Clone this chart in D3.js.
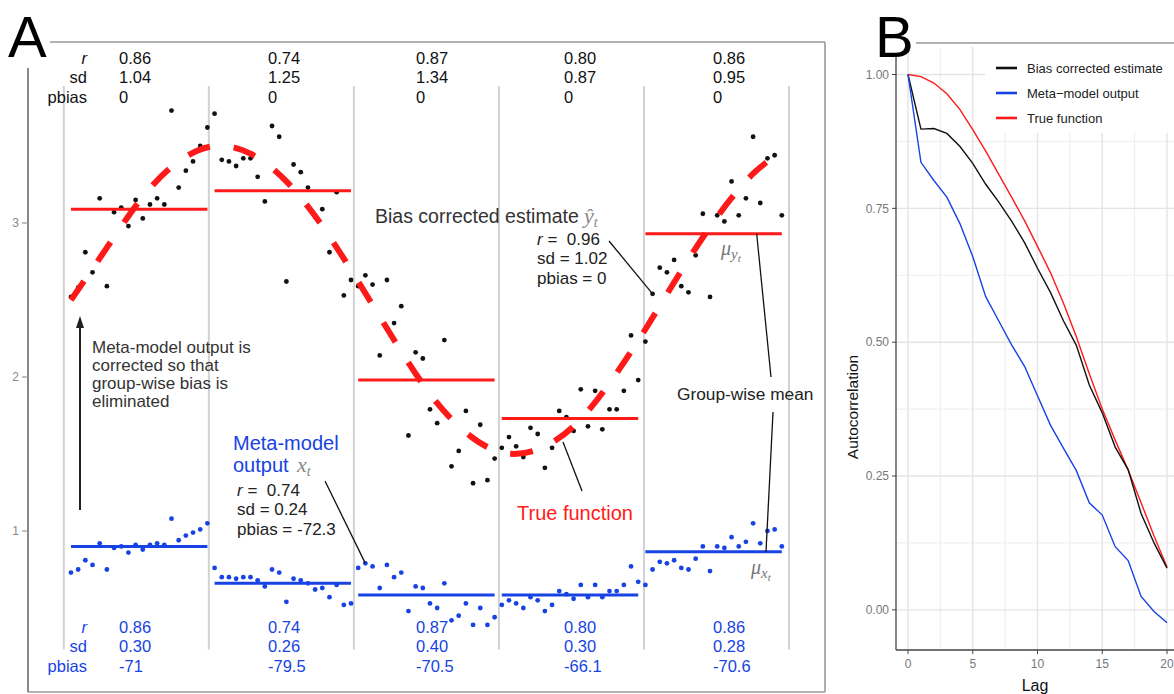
<!DOCTYPE html>
<html><head><meta charset="utf-8">
<script src="https://cdn.jsdelivr.net/npm/d3@7"></script>
<style>
body{margin:0;background:#fff}
svg{display:block;font-family:Arial,"Liberation Sans",Helvetica,sans-serif}
text{white-space:pre}
</style>
</head><body><svg id="c" width="1174" height="694"></svg>
<script>
// ---------------- DATA ----------------
const timeStep = d3.range(1, 101);
const biasCorrected = [
  2.52,2.58,2.81,2.68,3.16,2.59,3.07,3.10,2.98,3.15,3.03,3.12,3.16,3.12,3.73,3.23,3.34,3.40,3.50,3.62,
  3.71,3.41,3.40,3.37,3.42,3.42,3.30,3.14,3.63,3.56,2.62,3.38,3.33,3.23,3.04,3.09,2.81,3.20,2.53,2.63,
  2.59,2.66,2.60,2.14,2.63,2.35,2.46,1.62,2.16,2.12,1.79,1.70,2.24,1.42,1.52,1.78,1.31,1.69,1.33,1.47,
  1.54,1.61,1.55,1.48,1.67,1.63,1.41,1.54,1.78,1.74,1.65,1.92,1.68,1.91,1.66,1.79,1.79,1.91,2.27,1.98,
  2.23,2.54,2.71,2.68,2.76,2.59,2.55,2.79,3.06,2.52,3.05,3.01,3.27,3.05,3.16,3.56,3.13,3.42,3.44,3.05];
const metaModel = [
  0.73,0.75,0.81,0.78,0.92,0.75,0.89,0.90,0.86,0.91,0.88,0.91,0.92,0.91,1.08,0.94,0.97,0.99,1.01,1.05,
  0.76,0.70,0.70,0.69,0.70,0.70,0.68,0.64,0.75,0.73,0.54,0.69,0.68,0.66,0.62,0.63,0.57,0.65,0.52,0.53,
  0.76,0.79,0.77,0.63,0.78,0.70,0.73,0.48,0.64,0.63,0.53,0.50,0.66,0.42,0.45,0.53,0.39,0.50,0.39,0.44,
  0.52,0.55,0.53,0.50,0.57,0.55,0.48,0.52,0.61,0.59,0.56,0.65,0.57,0.65,0.57,0.61,0.61,0.65,0.77,0.67,
  0.65,0.75,0.80,0.79,0.81,0.76,0.75,0.82,0.90,0.74,0.90,0.89,0.96,0.90,0.93,1.05,0.92,1.00,1.01,0.90];
const trueT     = [1,6,11,16,21,26,31,36,41,46,51,56,61,66,71,76,81,86,91,96,100];
const trueValue = [2.50,2.84,3.17,3.40,3.50,3.45,3.27,2.98,2.62,2.24,1.89,1.64,1.51,1.53,1.68,1.96,2.31,2.69,3.04,3.32,3.46];
const groupBreaks = [0,20.2,40.4,60.6,80.8,101];
const groupMeanY = [3.09,3.21,1.98,1.73,2.93];
const groupMeanX = [0.90,0.66,0.585,0.585,0.865];
const statLabels = ["r","sd","pbias"];
const statYr     = ["0.86","0.74","0.87","0.80","0.86"];
const statYsd    = ["1.04","1.25","1.34","0.87","0.95"];
const statYpbias = ["0","0","0","0","0"];
const statXr     = ["0.86","0.74","0.87","0.80","0.86"];
const statXsd    = ["0.30","0.26","0.40","0.30","0.28"];
const statXpbias = ["-71","-79.5","-70.5","-66.1","-70.6"];
const yTicksA = [1,2,3];

const lags = d3.range(0, 21);
const acfBias = [1.000,0.898,0.899,0.890,0.866,0.834,0.795,0.762,0.726,0.686,0.638,0.593,0.540,0.494,0.420,0.368,0.304,0.262,0.180,0.125,0.078];
const acfMeta = [1.000,0.836,0.802,0.771,0.722,0.660,0.585,0.540,0.495,0.455,0.400,0.345,0.302,0.260,0.200,0.177,0.118,0.092,0.025,-0.003,-0.024];
const acfTrue = [1.000,0.996,0.984,0.964,0.935,0.897,0.857,0.814,0.771,0.727,0.679,0.630,0.573,0.510,0.441,0.375,0.317,0.261,0.200,0.138,0.080];
const xTicksB = [0,5,10,15,20];
const yTicksB = [0,0.25,0.5,0.75,1];
const xMinorB = [2.5,7.5,12.5,17.5];
const yMinorB = [0.125,0.375,0.625,0.875];
const legendLabels = ["Bias corrected estimate","Meta\u2212model output","True function"];

// ---------------- STYLE ----------------
const RED = "#ff1a1a", BLUE = "#1743e4", BLK = "#111";
const svg = d3.select("#c");
svg.append("rect").attr("width",1174).attr("height",694).attr("fill","#fff");

// ---------------- PANEL A ----------------
const xA = d3.scaleLinear().domain([0,101]).range([63.8,789]);
const yA = d3.scaleLinear().domain([1,3]).range([531,223]);
const A = svg.append("g");

// frame
A.append("line").attr("x1",50).attr("x2",825).attr("y1",42).attr("y2",42).attr("stroke","#999").attr("stroke-width",1.6);
A.append("line").attr("x1",825).attr("x2",825).attr("y1",42).attr("y2",692).attr("stroke","#999").attr("stroke-width",1.6);
A.append("line").attr("x1",28).attr("x2",825).attr("y1",692).attr("y2",692).attr("stroke","#999").attr("stroke-width",1.6);
A.append("line").attr("x1",28).attr("x2",28).attr("y1",68).attr("y2",692).attr("stroke","#888").attr("stroke-width",2);
A.append("text").attr("x",8).attr("y",57).attr("font-size",58).attr("fill","#000").text("A");

// y ticks
yTicksA.forEach(v=>{
  A.append("line").attr("x1",22).attr("x2",28).attr("y1",yA(v)).attr("y2",yA(v)).attr("stroke","#999").attr("stroke-width",1.2);
  A.append("text").attr("x",19).attr("y",yA(v)).attr("dy","0.35em").attr("text-anchor","end")
    .attr("font-size",12).attr("fill","#888").text(v);
});

// group separators
A.selectAll(".sep").data(groupBreaks).join("line")
  .attr("x1",d=>xA(d)).attr("x2",d=>xA(d)).attr("y1",yA(3.89)).attr("y2",yA(0.23))
  .attr("stroke","#d2d2d2").attr("stroke-width",2);

// points
A.selectAll(".pb").data(timeStep).join("circle")
  .attr("cx",(d)=>xA(d)).attr("cy",(d,i)=>yA(biasCorrected[i])).attr("r",2.4).attr("fill",BLK);
A.selectAll(".pm").data(timeStep).join("circle")
  .attr("cx",(d)=>xA(d)).attr("cy",(d,i)=>yA(metaModel[i])).attr("r",2.4).attr("fill",BLUE);

// group means
groupMeanY.forEach((m,i)=>{
  A.append("line").attr("x1",xA(i*20+1)).attr("x2",xA(i*20+20)).attr("y1",yA(m)).attr("y2",yA(m))
    .attr("stroke",RED).attr("stroke-width",3);
});
groupMeanX.forEach((m,i)=>{
  A.append("line").attr("x1",xA(i*20+1)).attr("x2",xA(i*20+20)).attr("y1",yA(m)).attr("y2",yA(m))
    .attr("stroke",BLUE).attr("stroke-width",3);
});

// true function
const trueData = trueT.map((t,i)=>({t, v:trueValue[i]}));
A.append("path").datum(trueData)
  .attr("d", d3.line().x(d=>xA(d.t)).y(d=>yA(d.v)).curve(d3.curveNatural))
  .attr("fill","none").attr("stroke",RED).attr("stroke-width",6).attr("stroke-dasharray","23,24");

// stats
const valX = [119,268,416,564,713];
function statBlock(rows, baselines, color){
  statLabels.forEach((lab,j)=>{
    A.append("text").attr("x",87).attr("y",baselines[j]).attr("text-anchor","end")
      .attr("font-size",16.5).attr("fill",color).attr("font-style", j===0?"italic":"normal").text(lab);
    rows[j].forEach((v,i)=>{
      A.append("text").attr("x",valX[i]).attr("y",baselines[j]).attr("font-size",16.5).attr("fill",color).text(v);
    });
  });
}
statBlock([statYr,statYsd,statYpbias],[64,83,103],"#111");
statBlock([statXr,statXsd,statXpbias],[633,652,672],BLUE);

// annotations
const SERIF = "'Liberation Serif','DejaVu Serif',serif";
A.append("text").attr("x",375).attr("y",223).attr("font-size",19.5).attr("fill","#333").text("Bias corrected estimate");
const yh = A.append("text").attr("x",584).attr("y",223).attr("font-family",SERIF).attr("font-style","italic").attr("fill","#888").attr("font-size",22);
yh.append("tspan").text("\u0177");
yh.append("tspan").attr("font-size",14).attr("dy",4).text("t");

function statAnno(x, y0, lines){
  lines.forEach((ln,j)=>{
    const tx = A.append("text").attr("x",x).attr("y",y0+j*19.3).attr("font-size",17).attr("fill","#222");
    if(ln[0]==="r"){ tx.append("tspan").attr("font-style","italic").text("r"); tx.append("tspan").text(ln.slice(1)); }
    else tx.text(ln);
  });
}
statAnno(537,245,["r =  0.96","sd = 1.02","pbias = 0"]);
statAnno(237,496,["r =  0.74","sd = 0.24","pbias = -72.3"]);

["Meta-model output is","corrected so that","group-wise bias is","eliminated"].forEach((s,j)=>{
  A.append("text").attr("x",92).attr("y",353+j*17.9).attr("font-size",17).attr("fill","#333").text(s);
});
// arrow
A.append("line").attr("x1",80).attr("x2",80).attr("y1",510).attr("y2",326).attr("stroke","#222").attr("stroke-width",2);
A.append("path").attr("d","M80,316 L76,328 L84,328 Z").attr("fill","#222");

A.append("text").attr("x",233).attr("y",450).attr("font-size",20).attr("fill",BLUE).text("Meta-model");
A.append("text").attr("x",233).attr("y",472).attr("font-size",20).attr("fill",BLUE).text("output");
const xt = A.append("text").attr("x",297).attr("y",472).attr("font-family",SERIF).attr("font-style","italic").attr("fill","#888").attr("font-size",22);
xt.append("tspan").text("x");
xt.append("tspan").attr("font-size",14).attr("dy",4).text("t");

A.append("text").attr("x",517).attr("y",520).attr("font-size",20).attr("fill",RED).text("True function");
A.append("text").attr("x",677).attr("y",400).attr("font-size",17.3).attr("fill","#222").text("Group-wise mean");

function mu(x,y,sub){
  const m = A.append("text").attr("x",x).attr("y",y).attr("font-family",SERIF).attr("font-style","italic").attr("fill","#777").attr("font-size",20);
  m.append("tspan").text("\u03bc");
  m.append("tspan").attr("font-size",15).attr("dy",4).text(sub);
  m.append("tspan").attr("font-size",11).attr("dy",3).text("t");
}
mu(721,255,"y");
mu(751,574,"x");

// leader lines
const leaders = [
  [609,241, xA(82), yA(biasCorrected[81])],
  [325,481, xA(42), yA(metaModel[41])],
  [563,442, 582,491],
  [xA(96.5), yA(groupMeanY[4]), 771,377],
  [773,412, 766, yA(groupMeanX[4])]
];
leaders.forEach(l=>{
  A.append("line").attr("x1",l[0]).attr("y1",l[1]).attr("x2",l[2]).attr("y2",l[3]).attr("stroke","#111").attr("stroke-width",1.3);
});

// ---------------- PANEL B ----------------
const xB = d3.scaleLinear().domain([-1,21]).range([895.05,1179.95]);
const yB = d3.scaleLinear().domain([-0.075,1.051]).range([650,47.2]);
const B = svg.append("g");
const clip = svg.append("clipPath").attr("id","cb");
clip.append("rect").attr("x",896).attr("y",47).attr("width",280).attr("height",603);
const plotB = B.append("g").attr("clip-path","url(#cb)");

xMinorB.forEach(v=>plotB.append("line").attr("x1",xB(v)).attr("x2",xB(v)).attr("y1",47).attr("y2",650).attr("stroke","#efefef").attr("stroke-width",1.2));
yMinorB.forEach(v=>plotB.append("line").attr("x1",896).attr("x2",1174).attr("y1",yB(v)).attr("y2",yB(v)).attr("stroke","#efefef").attr("stroke-width",1.2));
xTicksB.forEach(v=>plotB.append("line").attr("x1",xB(v)).attr("x2",xB(v)).attr("y1",47).attr("y2",650).attr("stroke","#e4e4e4").attr("stroke-width",1.4));
yTicksB.forEach(v=>plotB.append("line").attr("x1",896).attr("x2",1174).attr("y1",yB(v)).attr("y2",yB(v)).attr("stroke","#e4e4e4").attr("stroke-width",1.4));

// legend background
plotB.append("rect").attr("x",985).attr("y",47).attr("width",200).attr("height",86).attr("fill","#fff");

const lineB = d3.line().x((d,i)=>xB(lags[i])).y(d=>yB(d));
plotB.append("path").datum(acfTrue).attr("d",lineB).attr("fill","none").attr("stroke",RED).attr("stroke-width",1.4);
plotB.append("path").datum(acfBias).attr("d",lineB).attr("fill","none").attr("stroke",BLK).attr("stroke-width",1.4);
plotB.append("path").datum(acfMeta).attr("d",lineB).attr("fill","none").attr("stroke",BLUE).attr("stroke-width",1.4);

// legend
const legColors = [BLK, BLUE, RED];
legendLabels.forEach((lab,i)=>{
  const y = 68 + i*25;
  B.append("line").attr("x1",996).attr("x2",1017).attr("y1",y).attr("y2",y).attr("stroke",legColors[i]).attr("stroke-width",2.6);
  B.append("text").attr("x",1027).attr("y",y).attr("dy","0.35em").attr("font-size",13).attr("fill","#222").text(lab);
});

// axes
B.append("line").attr("x1",896).attr("x2",896).attr("y1",56).attr("y2",650).attr("stroke","#444").attr("stroke-width",1.3);
B.append("line").attr("x1",896).attr("x2",1174).attr("y1",650).attr("y2",650).attr("stroke","#444").attr("stroke-width",1.3);
yTicksB.forEach(v=>{
  B.append("line").attr("x1",892).attr("x2",896).attr("y1",yB(v)).attr("y2",yB(v)).attr("stroke","#444");
  B.append("text").attr("x",889).attr("y",yB(v)).attr("dy","0.35em").attr("text-anchor","end").attr("font-size",12).attr("fill","#777").text(d3.format(".2f")(v));
});
xTicksB.forEach(v=>{
  B.append("line").attr("x1",xB(v)).attr("x2",xB(v)).attr("y1",650).attr("y2",654).attr("stroke","#444");
  B.append("text").attr("x",xB(v)).attr("y",668).attr("text-anchor","middle").attr("font-size",12).attr("fill","#777").text(v);
});
B.append("text").attr("transform","translate(858,407) rotate(-90)").attr("text-anchor","middle").attr("font-size",15.5).attr("fill","#111").text("Autocorrelation");
B.append("text").attr("x",1035).attr("y",691).attr("text-anchor","middle").attr("font-size",16).attr("fill","#111").text("Lag");

B.append("line").attr("x1",916).attr("x2",1174).attr("y1",43).attr("y2",43).attr("stroke","#999").attr("stroke-width",1.6);
B.append("text").attr("x",875).attr("y",57).attr("font-size",58).attr("fill","#000").text("B");
</script>
</body></html>
